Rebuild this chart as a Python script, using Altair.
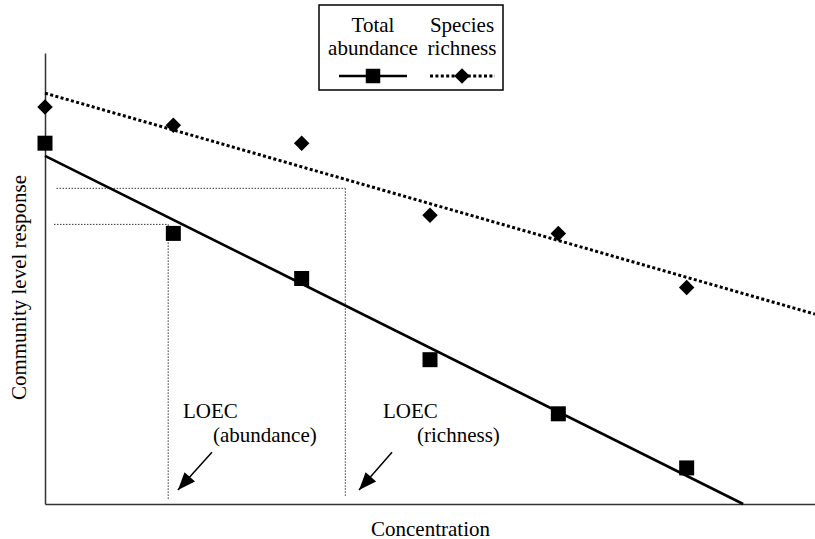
import altair as alt
import pandas as pd

# Observed community responses at each concentration step
conc = [0, 1, 2, 3, 4, 5]
abundance = [80, 60, 50, 32, 20, 8]
richness = [88, 84, 80, 64, 60, 48]

# Fitted response lines (end points)
abund_fit_x = [0, 5.44]
abund_fit_y = [77.2, 0]
rich_fit_x = [0, 6]
rich_fit_y = [91.1, 42.1]

# LOEC read-off guides (corner of each dotted L)
loec_conc = [0.96, 2.34]
loec_resp = [62, 70]
guide_start = [0.07, 0.09]
guide_floor = [1.1, 1.8]

# LOEC labels and arrows
label_text = ["LOEC", "(abundance)", "LOEC", "(richness)"]
label_x = [1.075, 1.309, 2.634, 2.899]
label_y = [19.1, 13.7, 19.1, 13.7]
arrow_tail_x = [1.301, 2.704]
arrow_tail_y = [11.5, 11.5]
arrow_tip_x = [1.036, 2.447]
arrow_tip_y = [3.1, 3.1]

FONT = "Liberation Serif, Times New Roman, DejaVu Serif, serif"
INK = "black"

pts = pd.DataFrame({"conc": conc, "abundance": abundance, "richness": richness})
abund_fit = pd.DataFrame({"conc": abund_fit_x, "resp": abund_fit_y})
rich_fit = pd.DataFrame({"conc": rich_fit_x, "resp": rich_fit_y})

horiz = pd.DataFrame({"x": guide_start, "x2": loec_conc, "y": loec_resp})
vert = pd.DataFrame({"x": loec_conc, "y": loec_resp, "y2": guide_floor})
labels = pd.DataFrame({"text": label_text, "x": label_x, "y": label_y})
arrows = pd.DataFrame({"x": arrow_tail_x, "y": arrow_tail_y,
                       "x2": arrow_tip_x, "y2": arrow_tip_y})

xs = alt.Scale(domain=[0, 6], nice=False, zero=True)
ys = alt.Scale(domain=[0, 100], nice=False, zero=True)
x_axis = alt.Axis(title="Concentration", titleY=31, titleBaseline="alphabetic")
y_axis = alt.Axis(title="Community level response", titleX=-20, titleY=234,
                  titleAngle=-90, titleBaseline="alphabetic")

X = lambda f: alt.X(f, type="quantitative", scale=xs, axis=x_axis)
Y = lambda f: alt.Y(f, type="quantitative", scale=ys, axis=y_axis)

abund_line = alt.Chart(abund_fit).mark_line(color=INK, strokeWidth=2.6).encode(
    x=X("conc"), y=Y("resp"))
rich_line = alt.Chart(rich_fit).mark_line(
    color=INK, strokeWidth=3, strokeDash=[3, 2.4]).encode(
    x=X("conc"), y=Y("resp"))

abund_pts = alt.Chart(pts).mark_point(
    shape="square", filled=True, color=INK, opacity=1, size=225).encode(
    x=X("conc"), y=Y("abundance"))
rich_pts = alt.Chart(pts).mark_point(
    shape="diamond", filled=True, color=INK, opacity=1, size=240).encode(
    x=X("conc"), y=Y("richness"))

guide_style = dict(color="#333", strokeWidth=1, strokeDash=[1.5, 1.5])
h_guides = alt.Chart(horiz).mark_rule(**guide_style).encode(
    x=X("x"), x2="x2", y=Y("y"))
v_guides = alt.Chart(vert).mark_rule(**guide_style).encode(
    x=X("x"), y=Y("y"), y2="y2")

label_marks = alt.Chart(labels).mark_text(
    font=FONT, fontSize=21, align="left", baseline="alphabetic", color=INK).encode(
    x=X("x"), y=Y("y"), text="text:N")

shafts = alt.Chart(arrows).mark_rule(color=INK, strokeWidth=1.5).encode(
    x=X("x"), y=Y("y"), x2="x2", y2="y2")
heads = alt.Chart(arrows).mark_point(
    shape="M0,0L-0.4,1L0.4,1Z", filled=True, color=INK, opacity=1,
    size=1250, angle=222).encode(x=X("x2"), y=Y("y2"))

# Boxed key drawn above the plot (pixel positions relative to the plot origin)
key_box = pd.DataFrame({"x": [274], "x2": [458], "y": [-48], "y2": [37]})
key_text = pd.DataFrame({
    "text": ["Total", "abundance", "Species", "richness"],
    "x": [328, 328, 417, 417],
    "y": [-21, 2, -21, 2],
})
key_solid = pd.DataFrame({"x": [294, 362], "y": [23, 23]})
key_dotted = pd.DataFrame({"x": [385, 450], "y": [23, 23]})
key_sq = pd.DataFrame({"x": [328], "y": [23]})
key_dia = pd.DataFrame({"x": [417], "y": [23]})

PX = lambda f: alt.X(f, type="quantitative", scale=None)
PY = lambda f: alt.Y(f, type="quantitative", scale=None)

box = alt.Chart(key_box).mark_rect(
    fill="white", stroke=INK, strokeWidth=1.5).encode(
    x=PX("x"), x2="x2", y=PY("y"), y2="y2")
box_text = alt.Chart(key_text).mark_text(
    font=FONT, fontSize=21, align="center", baseline="alphabetic", color=INK).encode(
    x=PX("x"), y=PY("y"), text="text:N")
box_solid = alt.Chart(key_solid).mark_line(color=INK, strokeWidth=2.6).encode(
    x=PX("x"), y=PY("y"))
box_dotted = alt.Chart(key_dotted).mark_line(
    color=INK, strokeWidth=3, strokeDash=[3, 2.4]).encode(x=PX("x"), y=PY("y"))
box_sq = alt.Chart(key_sq).mark_point(
    shape="square", filled=True, color=INK, opacity=1, size=210).encode(
    x=PX("x"), y=PY("y"))
box_dia = alt.Chart(key_dia).mark_point(
    shape="diamond", filled=True, color=INK, opacity=1, size=240).encode(
    x=PX("x"), y=PY("y"))

chart = alt.layer(
    h_guides, v_guides, abund_line, rich_line, abund_pts, rich_pts,
    label_marks, shafts, heads,
    box, box_text, box_solid, box_dotted, box_sq, box_dia,
).properties(
    width=770, height=451,
    padding={"left": 45, "top": 53, "right": 0, "bottom": 35},
    autosize=alt.AutoSizeParams(type="none"),
).configure_view(stroke=None).configure_axis(
    domainColor="#333", domainWidth=1.5, ticks=False, labels=False, grid=False,
    titleFont=FONT, titleFontSize=21, titleFontWeight="normal", titleColor=INK,
)

chart.save("out.html", embed_options={"renderer": "svg", "actions": False})
